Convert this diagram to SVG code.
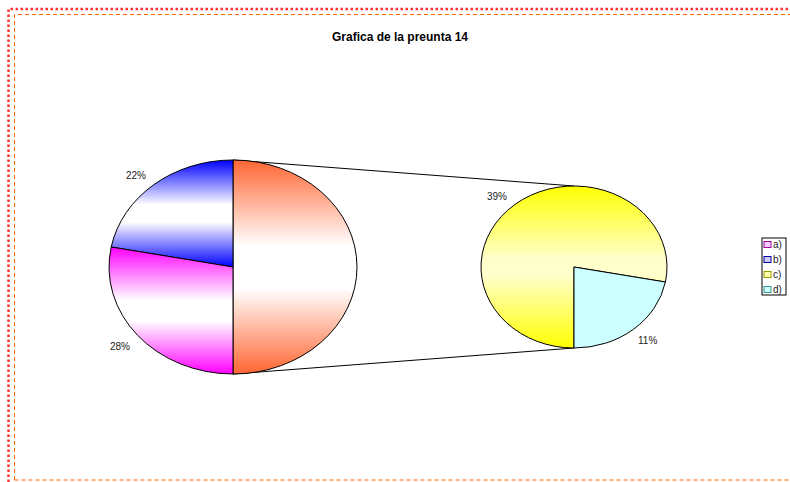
<svg xmlns="http://www.w3.org/2000/svg" width="790" height="482" viewBox="0 0 790 482">
<defs>
<style>
.lbl{font-family:"Liberation Sans",Arial,sans-serif;font-size:10px;fill:#222}
.ttl{font-family:"Liberation Sans",Arial,sans-serif;font-size:12px;font-weight:bold;fill:#000}
.slice{stroke:#000;stroke-width:1}
.conn{stroke:#000;stroke-width:1;fill:none}
</style>
<linearGradient id="gO" gradientUnits="userSpaceOnUse" x1="0" y1="160" x2="0" y2="374">
<stop offset="0" stop-color="#ff6633"/><stop offset="0.4" stop-color="#ffffff"/><stop offset="0.6" stop-color="#ffffff"/><stop offset="1" stop-color="#ff6633"/>
</linearGradient>
<linearGradient id="gB" gradientUnits="userSpaceOnUse" x1="0" y1="160" x2="0" y2="267">
<stop offset="0" stop-color="#0000ff"/><stop offset="0.42" stop-color="#ffffff"/><stop offset="0.58" stop-color="#ffffff"/><stop offset="1" stop-color="#0000ff"/>
</linearGradient>
<linearGradient id="gM" gradientUnits="userSpaceOnUse" x1="0" y1="247" x2="0" y2="374">
<stop offset="0" stop-color="#ff00ff"/><stop offset="0.42" stop-color="#ffffff"/><stop offset="0.58" stop-color="#ffffff"/><stop offset="1" stop-color="#ff00ff"/>
</linearGradient>
<linearGradient id="gY" gradientUnits="userSpaceOnUse" x1="0" y1="186" x2="0" y2="348">
<stop offset="0" stop-color="#ffff00"/><stop offset="0.45" stop-color="#ffffcc"/><stop offset="0.55" stop-color="#ffffcc"/><stop offset="1" stop-color="#ffff00"/>
</linearGradient>
</defs>
<rect width="790" height="482" fill="#fff"/>
<g id="frame">
<path d="M8.5 482 V9 H790" fill="none" stroke="#ff0000" stroke-width="2.5" stroke-dasharray="2.5 2.5" opacity="0.8"/>
<path d="M14.5 480 V14.5 H790 M14.5 480 H790" fill="none" stroke="#ff6600" stroke-width="1" stroke-dasharray="4 3"/>
</g>
<text class="ttl" x="400" y="41" text-anchor="middle">Grafica de la preunta 14</text>
<g id="connectors">
<line class="conn" x1="233" y1="160" x2="574" y2="186"/>
<line class="conn" x1="233" y1="374" x2="574" y2="348"/>
</g>
<g id="pie-main">
<path class="slice" fill="url(#gO)" d="M233 267 V160 A124 107 0 0 1 233 374 Z"/>
<path class="slice" fill="url(#gB)" d="M233 267 V160 A124 107 0 0 0 111.2 247 Z"/>
<path class="slice" fill="url(#gM)" d="M233 267 L111.2 247 A124 107 0 0 0 233 374 Z"/>
</g>
<g id="pie-detail">
<path class="slice" fill="url(#gY)" d="M574 267 V348 A93 81 0 1 1 665.4 282 Z"/>
<path class="slice" fill="#ccffff" d="M574 267 L665.4 282 A93 81 0 0 1 574 348 Z"/>
</g>
<g id="labels">
<text class="lbl" x="126" y="179">22%</text>
<text class="lbl" x="110" y="350">28%</text>
<text class="lbl" x="487" y="200">39%</text>
<text class="lbl" x="638" y="344">11%</text>
</g>
<g id="legend">
<rect x="762" y="238" width="24" height="57" fill="#fff" stroke="#000" stroke-width="1"/>
<rect x="764" y="241.5" width="7" height="6" fill="#ffccff" stroke="#990099"/>
<rect x="764" y="256.5" width="7" height="6" fill="#ccccff" stroke="#000099"/>
<rect x="764" y="271.5" width="7" height="6" fill="#ffffaa" stroke="#999900"/>
<rect x="764" y="286.5" width="7" height="6" fill="#ccffff" stroke="#339999"/>
<text class="lbl" x="773" y="248">a)</text>
<text class="lbl" x="773" y="263">b)</text>
<text class="lbl" x="773" y="278">c)</text>
<text class="lbl" x="773" y="293">d)</text>
</g>
</svg>
